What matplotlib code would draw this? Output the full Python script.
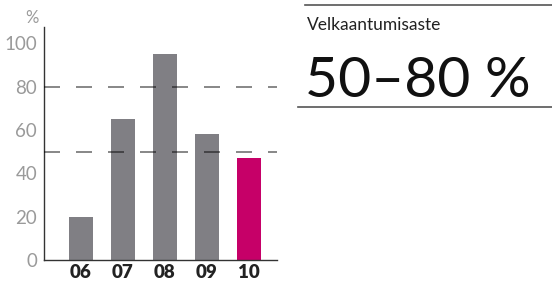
import numpy as np
import matplotlib.pyplot as plt
from matplotlib.lines import Line2D

years = ['06', '07', '08', '09', '10']
values = [20, 65, 95, 58, 47]
colors = ['#807f84', '#807f84', '#807f84', '#807f84', '#c60068']
yticks = [0, 20, 40, 60, 80, 100]
target_lo, target_hi = 50, 80
title = 'Velkaantumisaste'
big_text = '50\u201380 %'

plt.rcParams['font.family'] = ['Lato', 'DejaVu Sans']

fig = plt.figure(figsize=(5.52, 2.81), dpi=100)
W, H = 552, 281
ax = fig.add_axes([44 / W, (H - 260) / H, (277 - 44) / W, (260 - 27) / H])

x = np.arange(len(years))
ax.bar(x, values, width=0.57, color=colors, zorder=2)
for v in (target_lo, target_hi):
    ax.axhline(v, color='black', alpha=0.55, lw=1.2, dashes=(9.6, 9.6), zorder=3)

ax.set_xlim(-0.88, 4.67)
ax.set_ylim(0, 107.5)
ax.set_xticks(x)
ax.set_xticklabels(years, fontsize=13.5, fontweight='heavy', color='#222222')
ax.set_yticks(yticks)
ax.set_yticklabels([str(t) for t in yticks], fontsize=13.5, color='#9a9a9a')
ax.tick_params(length=0, pad=5)
ax.tick_params(axis='x', pad=3)
for s in ['top', 'right']:
    ax.spines[s].set_visible(False)
for s in ['left', 'bottom']:
    ax.spines[s].set_color('#333333')
    ax.spines[s].set_linewidth(1.0)
fig.text(32 / W, 1 - 18 / H, '%', fontsize=12, color='#9a9a9a', ha='center', va='center')

# right panel
fig.add_artist(Line2D([305 / W, 1], [1 - 5 / H, 1 - 5 / H], color='#555555', lw=1.2))
fig.add_artist(Line2D([298 / W, 1], [1 - 107 / H, 1 - 107 / H], color='#555555', lw=1.2))
fig.text(307 / W, 1 - 25 / H, title, fontsize=12.5, color='#222222', va='center', ha='left')
fig.text(305 / W, 1 - 97 / H, big_text, fontsize=41, color='#111111',
         va='baseline', ha='left')

fig.savefig('out.png', dpi=100)
